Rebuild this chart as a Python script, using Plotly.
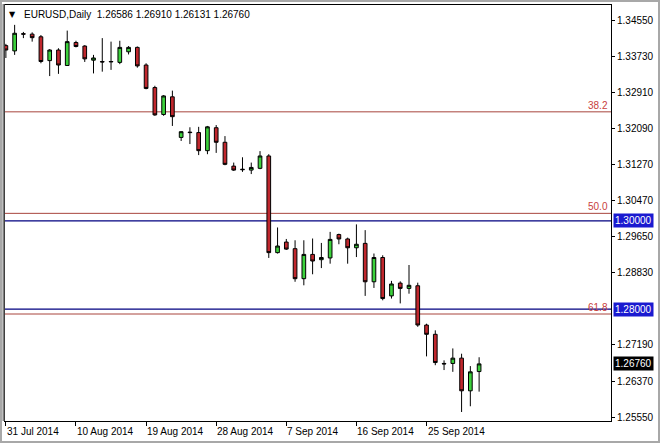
import plotly.graph_objects as go

# ---- data (EURUSD daily) ----
bar_index = list(range(55))
opens = [1.3397, 1.3385, 1.3424, 1.3423, 1.3417, 1.3363, 1.3387, 1.3352, 1.3404, 1.3396,
         1.3364, 1.3361, 1.3360, 1.3359, 1.3383, 1.3393, 1.3353, 1.3302, 1.3241, 1.3281,
         1.3189, 1.3201, 1.3200, 1.3159, 1.3211, 1.3178, 1.3124, 1.3117, 1.3115, 1.3119,
         1.3147, 1.2928, 1.2952, 1.2937, 1.2869, 1.2924, 1.2912, 1.2916, 1.2969, 1.2959,
         1.2939, 1.2949, 1.2862, 1.2917, 1.2830, 1.2859, 1.2847, 1.2853, 1.2764, 1.2743,
         1.2677, 1.2677, 1.2689, 1.2615, 1.26586]
highs = [1.3401, 1.3444, 1.3428, 1.3427, 1.3421, 1.3389, 1.3391, 1.3431, 1.3408, 1.3398,
         1.3376, 1.3414, 1.3406, 1.3408, 1.3396, 1.3395, 1.3357, 1.3306, 1.3285, 1.3295,
         1.3203, 1.3212, 1.3213, 1.3215, 1.3217, 1.3192, 1.3132, 1.3144, 1.3132, 1.3158,
         1.3151, 1.2985, 1.2959, 1.2956, 1.2956, 1.2960, 1.2950, 1.2975, 1.2971, 1.2962,
         1.2992, 1.2979, 1.2926, 1.2922, 1.2864, 1.2863, 1.2900, 1.2860, 1.2767, 1.2752,
         1.2684, 1.2711, 1.2699, 1.2671, 1.26910]
lows = [1.3369, 1.3376, 1.3414, 1.3406, 1.3357, 1.3328, 1.3333, 1.3351, 1.3393, 1.3360,
        1.3334, 1.3338, 1.3342, 1.3355, 1.3377, 1.3347, 1.3298, 1.3238, 1.3238, 1.3215,
        1.3181, 1.3174, 1.3149, 1.3151, 1.3154, 1.3126, 1.3113, 1.3111, 1.3106, 1.3117,
        1.2916, 1.2926, 1.2934, 1.2862, 1.2854, 1.2879, 1.2893, 1.2903, 1.2947, 1.2903,
        1.2918, 1.2830, 1.2848, 1.2820, 1.2824, 1.2813, 1.2835, 1.2760, 1.2693, 1.2673,
        1.2662, 1.2658, 1.2567, 1.2580, 1.26131]
closes = [1.3387, 1.3425, 1.3423, 1.3415, 1.3361, 1.3387, 1.3353, 1.3406, 1.3395, 1.3367,
          1.3369, 1.3360, 1.3361, 1.3393, 1.3393, 1.3351, 1.3300, 1.3240, 1.3283, 1.3236,
          1.3202, 1.3200, 1.3159, 1.3213, 1.3178, 1.3128, 1.3115, 1.3116, 1.3121, 1.3147,
          1.2928, 1.2943, 1.2936, 1.2869, 1.2924, 1.2909, 1.2917, 1.2958, 1.2959, 1.2939,
          1.2947, 1.2862, 1.2917, 1.2824, 1.2857, 1.2847, 1.2854, 1.2764, 1.2743, 1.2679,
          1.2676, 1.2689, 1.2615, 1.2658, 1.26760]

date_tick_index = [0, 8, 16, 24, 32, 40, 48]
date_tick_labels = ["31 Jul 2014", "10 Aug 2014", "19 Aug 2014", "28 Aug 2014",
                    "7 Sep 2014", "16 Sep 2014", "25 Sep 2014"]
price_ticks = [1.3455, 1.3373, 1.3291, 1.3209, 1.3127, 1.3047, 1.2965, 1.2883,
               1.2719, 1.2637, 1.2555]
fib_levels = [1.3247, 1.3017, 1.2789]
fib_labels = ["38.2", "50.0", "61.8"]
hlines = [1.3000, 1.2800]

W, H = 660, 443
ML, MR, MT, MB = 5, 49, 5, 22
PW, PH = W - ML - MR, H - MT - MB
def px_x(p): return (p - ML) / PW
def px_y(p): return (H - MB - p) / PH

FONT = "Liberation Sans, Arial, sans-serif"

fig = go.Figure()
fig.add_trace(go.Candlestick(
    x=bar_index, open=opens, high=highs, low=lows, close=closes,
    increasing=dict(line=dict(color="black", width=1), fillcolor="#3cd23c"),
    decreasing=dict(line=dict(color="black", width=1), fillcolor="#c0272d"),
    whiskerwidth=0, hoverinfo="skip", showlegend=False,
))

shapes = []
for lv in fib_levels:
    shapes.append(dict(type="line", xref="paper", yref="y", x0=0, x1=1, y0=lv, y1=lv,
                       line=dict(color="#a8453d", width=1), layer="below"))
for lv in hlines:
    shapes.append(dict(type="line", xref="paper", yref="y", x0=0, x1=1, y0=lv, y1=lv,
                       line=dict(color="#000080", width=1.3), layer="below"))
# window frame
shapes.append(dict(type="rect", xref="paper", yref="paper",
                   x0=px_x(1), x1=px_x(659), y0=px_y(442), y1=px_y(1),
                   line=dict(color="#a8a8a8", width=2), fillcolor="rgba(0,0,0,0)"))
shapes.append(dict(type="line", xref="paper", yref="paper",
                   x0=px_x(3.5), x1=px_x(3.5), y0=px_y(421), y1=px_y(4),
                   line=dict(color="#808080", width=2)))

annotations = []
for lv, lab in zip(fib_levels, fib_labels):
    annotations.append(dict(x=1, xref="paper", y=lv, yref="y", text=lab,
                            xanchor="right", yanchor="bottom", xshift=-1, yshift=-1,
                            showarrow=False, font=dict(family=FONT, size=10, color="#c8403c")))
for i, lab in zip(date_tick_index, date_tick_labels):
    annotations.append(dict(x=i, xref="x", y=0, yref="paper", text=lab,
                            xanchor="left", yanchor="top", xshift=-1, yshift=-3,
                            showarrow=False, font=dict(family=FONT, size=10, color="black")))
for lv, bg in [(hlines[0], "#1a1ad0"), (hlines[1], "#1a1ad0"), (closes[-1], "black")]:
    annotations.append(dict(x=1, xref="paper", y=lv, yref="y", text=f"{lv:.5f}",
                            xanchor="left", yanchor="middle", xshift=2,
                            bgcolor=bg, borderpad=1, showarrow=False,
                            font=dict(family=FONT, size=10, color="white")))
header = "EURUSD,Daily  {:.5f} {:.5f} {:.5f} {:.5f}".format(opens[-1], highs[-1], lows[-1], closes[-1])
annotations.append(dict(x=px_x(22), xref="paper", y=px_y(14), yref="paper", text=header,
                        xanchor="left", yanchor="middle", showarrow=False,
                        font=dict(family=FONT, size=10, color="black")))
annotations.append(dict(x=px_x(12.5), xref="paper", y=px_y(14), yref="paper", text="▼",
                        xanchor="center", yanchor="middle", showarrow=False,
                        font=dict(family="DejaVu Sans", size=8, color="black")))

fig.update_layout(
    width=W, height=H,
    margin=dict(l=ML, r=MR, t=MT, b=MB, pad=0),
    paper_bgcolor="white", plot_bgcolor="white",
    shapes=shapes, annotations=annotations,
    font=dict(family=FONT, size=10, color="black"),
    xaxis=dict(range=[-0.1, 69.05], rangeslider=dict(visible=False),
               tickmode="array", tickvals=date_tick_index, showticklabels=False,
               ticks="outside", ticklen=4, tickcolor="black",
               showgrid=False, zeroline=False, showline=True, mirror=True,
               linecolor="black", linewidth=1),
    yaxis=dict(range=[1.25466, 1.3489], side="right",
               tickmode="array", tickvals=price_ticks,
               ticktext=[f"{v:.5f}" for v in price_ticks],
               ticks="outside", ticklen=3, tickcolor="black",
               tickfont=dict(family=FONT, size=10, color="black"),
               showgrid=False, zeroline=False, showline=True, mirror=True,
               linecolor="black", linewidth=1),
    boxgap=0.4,
)

fig.write_html("out.html", config={"displayModeBar": False},
               post_script="document.body.style.margin='0px';document.body.style.overflow='hidden';")
